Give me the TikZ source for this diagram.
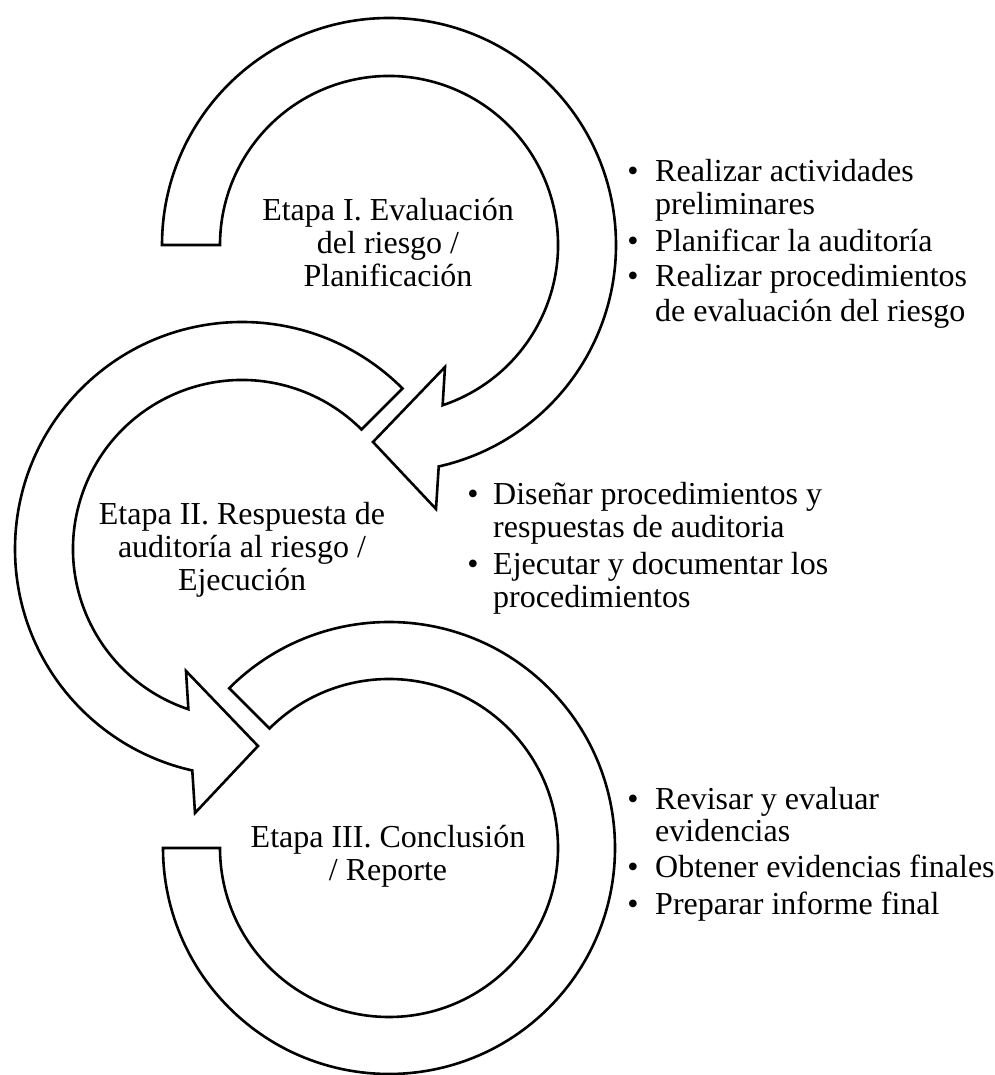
\documentclass[tikz,border=0pt]{standalone}
\usepackage{fontspec}
\setmainfont{Liberation Serif}
\usetikzlibrary{calc}
\begin{document}
\begin{tikzpicture}[x=1pt,y=1pt]
\tikzset{
  band/.style={draw=black, fill=white, line width=2.6pt, line join=miter},
  lbl/.style={inner sep=0pt, font=\fontsize{32}{33}\selectfont, anchor=base},
  itm/.style={inner sep=0pt, font=\fontsize{32}{33}\selectfont, anchor=base west},
  bul/.style={inner sep=0pt, font=\fontsize{32}{33}\selectfont, anchor=base},
}
\useasboundingbox (0,0) rectangle (994,1075);
% centres
\coordinate (c1) at (389,830);
\coordinate (c2) at (242,526);
\coordinate (c3) at (389,227);
% arrow 3 (no head)
\draw[band] ($(c3)+(135:226)$) arc[start angle=135, end angle=-180, radius=226]
  -- ($(c3)+(-169,0)$) arc[start angle=-180, end angle=135, radius=169] -- cycle;
% arrow 2
\draw[band] ($(c2)+(45:227)$) arc[start angle=45, end angle=257.35, radius=227]
  -- ($(c2)+(-47,-264)$) -- ($(c2)+(16,-197)$) -- ($(c2)+(-56,-122)$)
  -- ($(c2)+(251.5:169)$) arc[start angle=251.5, end angle=45, radius=169] -- cycle;
% arrow 1
\draw[band] ($(c1)+(-227,0)$) arc[start angle=180, end angle=-77.35, radius=227]
  -- ($(c1)+(47,-264)$) -- ($(c1)+(-16,-197)$) -- ($(c1)+(56,-122)$)
  -- ($(c1)+(-71.5:169)$) arc[start angle=-71.5, end angle=180, radius=169] -- cycle;
% stage labels
\node[lbl] (s1a) at (388,854) {Etapa I. Evaluación};
\node[lbl] (s1b) at (388,821) {del riesgo /};
\node[lbl] (s1c) at (388,788) {Planificación};
\node[lbl] (s2a) at (242,550) {Etapa II. Respuesta de};
\node[lbl] (s2b) at (242,517) {auditoría al riesgo /};
\node[lbl] (s2c) at (242,484) {Ejecución};
\node[lbl] (s3a) at (388,227) {Etapa III. Conclusión};
\node[lbl] (s3b) at (388,194) {/ Reporte};
% block 1
\node[bul] (b11) at (633,893) {\textbullet};
\node[itm] (t11) at (655,893) {Realizar actividades};
\node[itm] (t12) at (655,860) {preliminares};
\node[bul] (b12) at (633,823) {\textbullet};
\node[itm] (t13) at (655,823) {Planificar la auditoría};
\node[bul] (b13) at (633,788) {\textbullet};
\node[itm] (t14) at (655,788) {Realizar procedimientos};
\node[itm] (t15) at (655,753) {de evaluación del riesgo};
% block 2
\node[bul] (b21) at (473,570) {\textbullet};
\node[itm] (t21) at (493,570) {Diseñar procedimientos y};
\node[itm] (t22) at (493,537) {respuestas de auditoria};
\node[bul] (b22) at (473,500) {\textbullet};
\node[itm] (t23) at (493,500) {Ejecutar y documentar los};
\node[itm] (t24) at (493,467) {procedimientos};
% block 3
\node[bul] (b31) at (633,265) {\textbullet};
\node[itm] (t31) at (655,265) {Revisar y evaluar};
\node[itm] (t32) at (655,233) {evidencias};
\node[bul] (b32) at (633,197) {\textbullet};
\node[itm] (t33) at (655,197) {Obtener evidencias finales};
\node[bul] (b33) at (633,160) {\textbullet};
\node[itm] (t34) at (655,160) {Preparar informe final};
\end{tikzpicture}
\end{document}
